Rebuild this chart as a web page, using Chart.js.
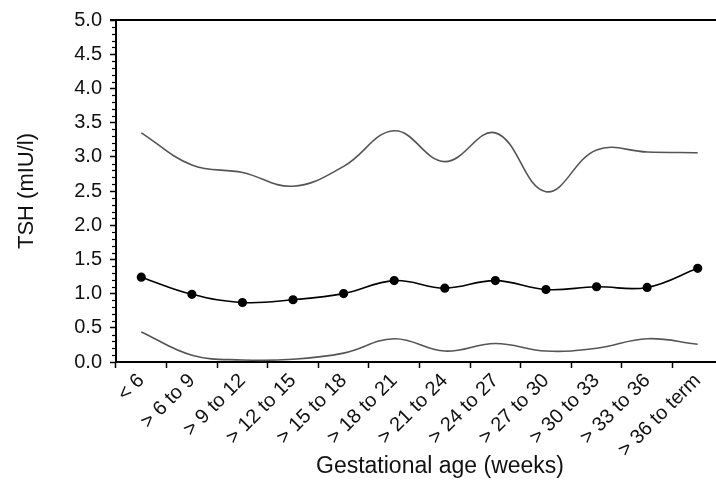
<!DOCTYPE html>
<html>
<head>
<meta charset="utf-8">
<script src="https://cdn.jsdelivr.net/npm/chart.js@4.4.1/dist/chart.umd.min.js"></script>
<style>
  html, body { margin: 0; padding: 0; background: #fff; overflow: hidden; width: 716px; height: 483px; }
  #wrap { width: 740px; height: 483px; }
</style>
</head>
<body>
<div id="wrap"><canvas id="c" width="740" height="483"></canvas></div>
<script>
const categories = ['< 6', '> 6 to 9', '> 9 to 12', '> 12 to 15', '> 15 to 18', '> 18 to 21', '> 21 to 24', '> 24 to 27', '> 27 to 30', '> 30 to 33', '> 33 to 36', '> 36 to term'];
const upper97 = [3.35, 2.88, 2.77, 2.57, 2.86, 3.38, 2.93, 3.35, 2.49, 3.10, 3.07, 3.06];
const median = [1.24, 0.99, 0.87, 0.91, 1.00, 1.19, 1.08, 1.19, 1.06, 1.10, 1.09, 1.37];
const lower3 = [0.44, 0.10, 0.03, 0.04, 0.13, 0.34, 0.16, 0.27, 0.16, 0.20, 0.34, 0.26];
const yTitle = 'TSH (mIU/l)';
const xTitle = 'Gestational age (weeks)';

const FONT = "'Liberation Sans', Arial, Helvetica, sans-serif";
const INK = '#111';

const decor = {
  id: 'decor',
  afterDraw(chart) {
    const ctx = chart.ctx;
    const ca = chart.chartArea;
    const y = chart.scales.y;
    ctx.save();
    ctx.strokeStyle = '#000';
    // top frame line
    ctx.lineWidth = 2;
    ctx.beginPath();
    ctx.moveTo(ca.left - 6, ca.top);
    ctx.lineTo(chart.width, ca.top);
    ctx.stroke();
    // minor ticks on y axis
    ctx.lineWidth = 1.2;
    for (let i = 0; i <= 50; i++) {
      if (i % 5 === 0) continue;
      const py = Math.round(y.getPixelForValue(i / 10)) + 0.5;
      ctx.beginPath();
      ctx.moveTo(ca.left - 4, py);
      ctx.lineTo(ca.left, py);
      ctx.stroke();
    }
    // x axis title
    ctx.fillStyle = INK;
    ctx.font = "23px " + FONT;
    ctx.textAlign = 'center';
    ctx.textBaseline = 'middle';
    ctx.fillText(xTitle, ca.left + 324, 467);
    ctx.restore();
  }
};

new Chart(document.getElementById('c'), {
  type: 'line',
  data: {
    labels: categories,
    datasets: [
      { data: upper97, borderColor: '#555', borderWidth: 1.6, pointRadius: 0, tension: 0.4, fill: false },
      { data: median, borderColor: '#000', borderWidth: 1.6, pointRadius: 3.8, pointBackgroundColor: '#000', pointBorderColor: '#000', pointStyle: 'circle', tension: 0.4, fill: false },
      { data: lower3, borderColor: '#555', borderWidth: 1.6, pointRadius: 0, tension: 0.4, fill: false }
    ]
  },
  options: {
    responsive: false,
    animation: false,
    layout: { padding: { top: 16, right: 17, bottom: 0, left: 0 } },
    plugins: { legend: { display: false }, tooltip: { enabled: false } },
    scales: {
      x: {
        type: 'category',
        offset: true,
        grid: { offset: true, drawOnChartArea: false, drawTicks: true, tickLength: 6, color: '#000', tickWidth: 1.5 },
        border: { display: true, color: '#000', width: 2 },
        ticks: { color: INK, font: { family: FONT, size: 20 }, minRotation: 45, maxRotation: 45, padding: 1, autoSkip: false },
        afterFit(s) { s.height = 121; }
      },
      y: {
        min: 0, max: 5,
        grid: { drawOnChartArea: false, drawTicks: true, tickLength: 6, color: '#000', tickWidth: 1.5 },
        border: { display: true, color: '#000', width: 2 },
        ticks: { stepSize: 0.5, color: INK, font: { family: FONT, size: 20 }, padding: 8, callback: v => Number(v).toFixed(1) },
        title: { display: true, text: yTitle, color: INK, font: { family: FONT, size: 22 }, padding: { top: 14, bottom: 0 } },
        afterFit(s) { s.width = 116; }
      }
    }
  },
  plugins: [decor]
});
</script>
</body>
</html>
